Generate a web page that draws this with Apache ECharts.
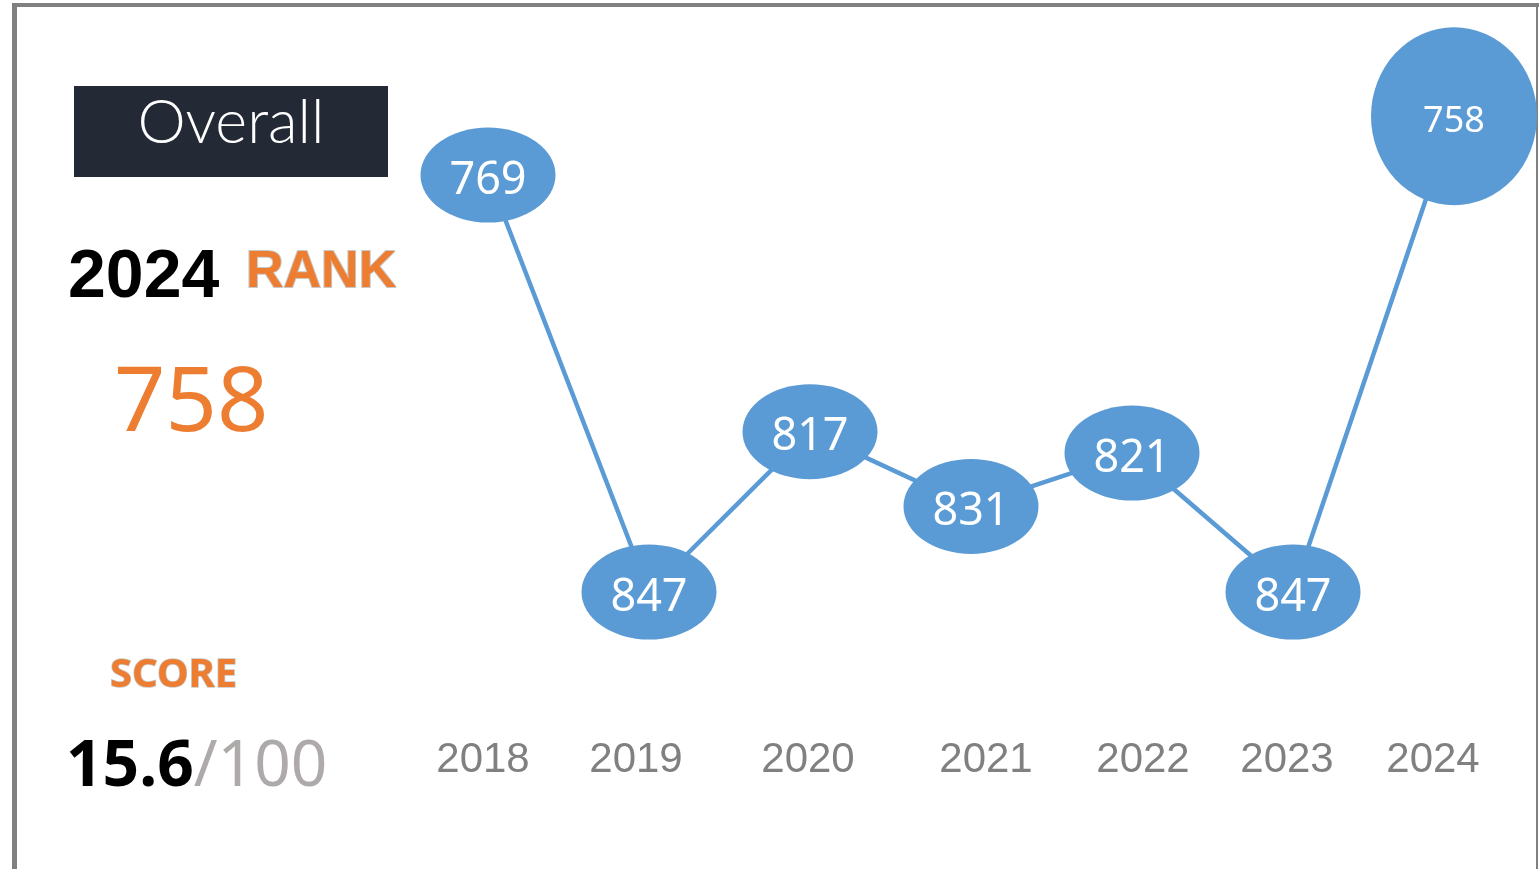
<!DOCTYPE html>
<html>
<head>
<meta charset="utf-8">
<style>
  html, body { margin: 0; padding: 0; background: #fff; }
  #main { width: 1539px; height: 869px; }
</style>
<script src="https://cdn.jsdelivr.net/npm/echarts@6/dist/echarts.min.js"></script>
</head>
<body>
<div id="main"></div>
<script>
// data
var years = ['2018', '2019', '2020', '2021', '2022', '2023', '2024'];
var ranks = [769, 847, 817, 831, 821, 847, 758];
var currentYear = '2024';
var currentRank = 758;
var score = 15.6;
var scoreMax = 100;

(function () {
    var chart = echarts.init(document.getElementById('main'));
    var blue = '#5b9bd5';
    var orange = '#ed7d31';
    var last = ranks.length - 1;

    // small nudges so the year labels sit like in the original slide
    var labelNudge = [-5, -13, -2, 15, 11, -6, -21];

    var yearItems = years.map(function (y, i) {
        var d = labelNudge[i];
        return {
            value: y,
            textStyle: { padding: d > 0 ? [0, 0, 0, 2 * d] : [0, -2 * d, 0, 0] }
        };
    });

    var points = ranks.map(function (r, i) {
        var item = { value: r };
        if (i === last) {
            item.symbolSize = [166, 178];
            item.label = { fontSize: 36 };
        }
        return item;
    });

    var option = {
        animation: false,
        backgroundColor: '#fff',
        grid: { left: 488, right: 85, top: 20, bottom: 207.5 },
        xAxis: {
            type: 'category',
            boundaryGap: false,
            data: yearItems,
            axisLine: { show: false },
            axisTick: { show: false },
            splitLine: { show: false },
            axisLabel: {
                margin: 78,
                interval: 0,
                color: '#808080',
                fontSize: 42,
                fontFamily: 'Liberation Sans, Arial, sans-serif'
            }
        },
        yAxis: {
            type: 'value',
            inverse: true,
            min: 740,
            max: 860,
            show: false,
            splitLine: { show: false }
        },
        series: [{
            type: 'line',
            data: points,
            symbol: 'circle',
            symbolSize: [135, 95],
            itemStyle: { color: blue },
            lineStyle: { color: blue, width: 4.5 },
            label: {
                show: true,
                position: 'inside',
                color: '#fff',
                fontSize: 45,
                fontFamily: 'Noto Sans, Open Sans, sans-serif',
                offset: [0, 6]
            },
            z: 3
        }],
        graphic: [
            // frame
            { type: 'rect', shape: { x: 12, y: 3, width: 1527, height: 4 }, style: { fill: '#808080' } },
            { type: 'rect', shape: { x: 12, y: 3, width: 5, height: 866 }, style: { fill: '#808080' } },
            { type: 'rect', shape: { x: 1536, y: 3, width: 2, height: 866 }, style: { fill: '#808080' } },
            // header box
            { type: 'rect', shape: { x: 74, y: 86, width: 314, height: 91 }, style: { fill: '#232a36' } },
            {
                type: 'text', x: 231, y: 123,
                style: {
                    text: 'Overall', fill: '#fff', align: 'center', verticalAlign: 'middle',
                    font: '300 61px Lato, Inter, sans-serif'
                }
            },
            {
                type: 'text', x: 68, y: 278,
                style: {
                    text: currentYear, fill: '#000', align: 'left', verticalAlign: 'middle',
                    font: 'bold 68px "Liberation Sans", Arial, sans-serif'
                }
            },
            {
                type: 'text', x: 246, y: 273,
                style: {
                    text: 'RANK', fill: orange, stroke: '#c8c8c8', lineWidth: 2,
                    align: 'left', verticalAlign: 'middle',
                    font: 'bold 52px "Liberation Sans", Arial, sans-serif'
                }
            },
            {
                type: 'text', x: 114, y: 405,
                style: {
                    text: String(currentRank), fill: orange, align: 'left', verticalAlign: 'middle',
                    font: '90px "Noto Sans", "Open Sans", sans-serif'
                }
            },
            {
                type: 'text', x: 110, y: 676,
                style: {
                    text: 'SCORE', fill: orange, stroke: '#c8c8c8', lineWidth: 1.5,
                    align: 'left', verticalAlign: 'middle',
                    font: 'bold 40px "Noto Sans", "Open Sans", sans-serif'
                }
            },
            {
                type: 'text', x: 66, y: 768,
                style: {
                    text: '{a|' + score.toFixed(1) + '}{b|/' + scoreMax + '}',
                    align: 'left', verticalAlign: 'middle',
                    rich: {
                        a: { fill: '#000', font: 'bold 64px "Noto Sans", "Open Sans", sans-serif' },
                        b: { fill: '#aeaaaa', font: '64px "Noto Sans", "Open Sans", sans-serif' }
                    }
                }
            }
        ]
    };

    chart.setOption(option);
    window.addEventListener('resize', function () {
        chart.resize();
    });
})();
</script>
</body>
</html>
